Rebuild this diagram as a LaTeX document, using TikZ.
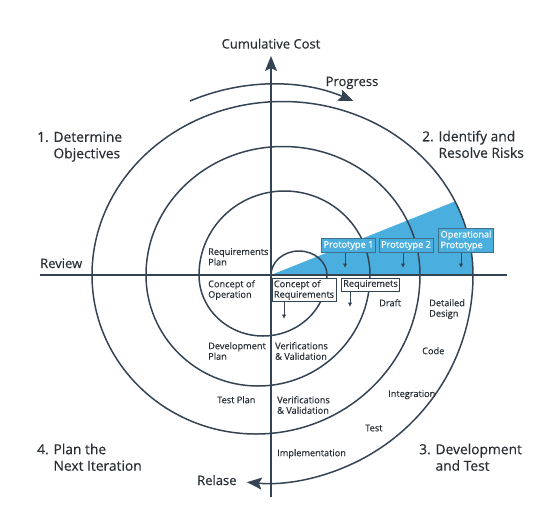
\documentclass[tikz,border=0pt]{standalone}
\usepackage{fontspec}
\setmainfont{Open Sans}[FakeBold=0.4]
\usetikzlibrary{arrows.meta}
\definecolor{ink}{RGB}{52,68,84}
\definecolor{txt}{RGB}{40,46,52}
\definecolor{sky}{RGB}{74,175,222}
\definecolor{skyedge}{RGB}{62,112,140}
\begin{document}
\begin{tikzpicture}[x=1pt,y=-1pt,
  spiral/.style={draw=ink,line width=1.5pt,line join=round},
  lbl/.style={font=\fontsize{9.2}{10.5}\selectfont,text=txt,inner sep=0pt,align=left,anchor=north west},
  biglbl/.style={font=\fontsize{13}{16}\selectfont,text=txt,inner sep=0pt,align=left},
  quad/.style={font=\fontsize{13.8}{16.5}\selectfont,text=txt,inner sep=0pt,align=left,anchor=north west},
  proto/.style={fill=sky,draw=skyedge,line width=0.8pt,text=white,font=\fontsize{9.2}{10.5}\selectfont,inner xsep=2pt,inner ysep=2.5pt,align=left},
  wbox/.style={fill=white,draw=ink,line width=0.8pt,text=txt,font=\fontsize{9.2}{10.5}\selectfont,inner xsep=2pt,inner ysep=2pt,align=left},
  bigarrow/.style={-{Stealth[length=15pt,width=12pt,inset=3pt]}},
  smallarrow/.style={draw=ink,line width=0.9pt,-{Latex[length=4.5pt,width=4.5pt]}}
]
\useasboundingbox (0,0) rectangle (548,506);

% blue wedge
\fill[sky] (271,275) -- (455,201.4) arc[start angle=25.1,end angle=0,x radius=190.5pt,y radius=173.5pt] -- cycle;

% spiral
\draw[spiral,bigarrow] (271,275)
  arc[start angle=180,end angle=0,x radius=28pt,y radius=24pt]
  arc[start angle=0,end angle=-180,x radius=64pt,y radius=61pt]
  arc[start angle=180,end angle=0,x radius=85.5pt,y radius=84pt]
  arc[start angle=0,end angle=-180,x radius=112pt,y radius=111pt]
  arc[start angle=180,end angle=0,x radius=137pt,y radius=128.5pt]
  arc[start angle=0,end angle=-180,x radius=164pt,y radius=159pt]
  arc[start angle=180,end angle=0,x radius=190.5pt,y radius=173.5pt]
  arc[start angle=0,end angle=-95,radius=208pt];

% axes
\coordinate (vtop) at (271,56);
\coordinate (vbot) at (271,497);
\coordinate (hl) at (40,275);
\coordinate (hr) at (507,275);
\draw[spiral,bigarrow] (vbot) -- (vtop);
\draw[spiral] (hl) -- (hr);

% progress arrow
\draw[spiral,bigarrow] (190,101) arc[start angle=113,end angle=67,radius=209pt];

% prototype boxes
\node[proto] (p1) at (348.5,245.5) {Prototype 1};
\node[proto] (p2) at (406,245.5) {Prototype 2};
\node[proto] (op) at (466,240.5) {Operational\\Prototype};
\coordinate (p1e) at (345,268);
\coordinate (p2e) at (403,268);
\coordinate (ope) at (461,268);
\draw[smallarrow] (p1e |- p1.south) -- (p1e);
\draw[smallarrow] (p2e |- p2.south) -- (p2e);
\draw[smallarrow] (ope |- op.south) -- (ope);

% white boxes
\node[wbox] (cr) at (304,290) {Concept of\\Requirements};
\node[wbox] (rq) at (370.5,284.5) {Requiremets};
\coordinate (cre) at (284,319);
\coordinate (rqe) at (350,307);
\draw[smallarrow] (cre |- cr.south) -- (cre);
\draw[smallarrow] (rqe |- rq.south) -- (rqe);

% small labels
\node[lbl] (rp) at (208,248) {Requirements\\Plan};
\node[lbl] (co) at (208,280) {Concept of\\Operation};
\node[lbl] (dp) at (208,342) {Development\\Plan};
\node[lbl] (vv1) at (275,342) {Verifications\\\& Validation};
\node[lbl] (tp) at (217,396) {Test Plan};
\node[lbl] (vv2) at (277,396) {Verifications\\\& Validation};
\node[lbl] (im) at (277,449) {Implementation};
\node[lbl] (dr) at (379,299) {Draft};
\node[lbl] (dd) at (429,299) {Detailed\\Design};
\node[lbl] (cd) at (422,347) {Code};
\node[lbl] (ig) at (388,390) {Integration};
\node[lbl] (ts) at (365,424.5) {Test};

% big labels
\node[biglbl,anchor=base] (cc) at (271,48.5) {Cumulative Cost};
\node[biglbl,anchor=base] (pg) at (352,86) {Progress};
\node[biglbl,anchor=base west] (rv) at (40,268) {Review};
\node[biglbl,anchor=base west] (rl) at (197,485) {Relase};
\node[quad] (q1) at (37,131.5) {1. Determine\\\phantom{1. }Objectives};
\node[quad] (q2) at (422,130.5) {2. Identify and\\\phantom{2. }Resolve Risks};
\node[quad] (q3) at (419,443.5) {3. Development\\\phantom{3. }and Test};
\node[quad] (q4) at (37,443.5) {4. Plan the\\\phantom{4. }Next Iteration};
\end{tikzpicture}
\end{document}
